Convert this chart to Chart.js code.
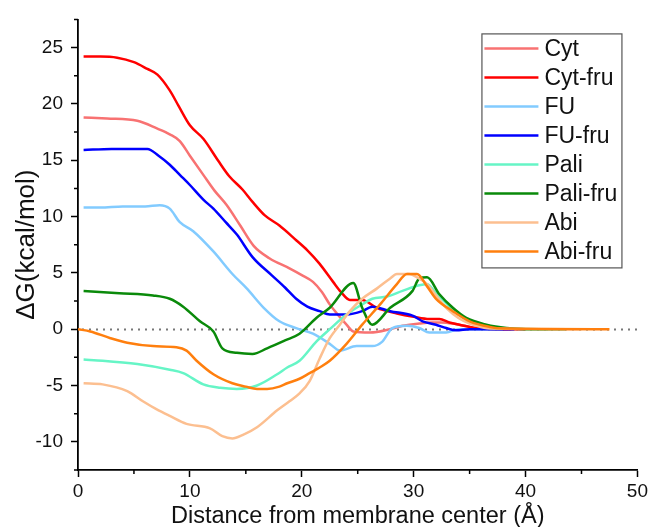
<!DOCTYPE html>
<html>
<head>
<meta charset="utf-8">
<script src="https://cdn.jsdelivr.net/npm/chart.js@4.4.1/dist/chart.umd.min.js"></script>
<style>
  html, body { margin: 0; padding: 0; background: #fff; }
  #wrap { width: 651px; height: 527px; }
</style>
</head>
<body>
<div id="wrap"><canvas id="myChart" width="651" height="527"></canvas></div>
<script>
// series names and colours
const seriesNames = ['Cyt', 'Cyt-fru', 'FU', 'FU-fru', 'Pali', 'Pali-fru', 'Abi', 'Abi-fru'];
const seriesColors = ['#f87272', '#ff0000', '#82cbff', '#0000ff', '#66f5c6', '#0a8a0a', '#fcbf90', '#ff7f0e'];

// distance from membrane center (Å) / ΔG (kcal/mol)
const cytX = [0.5, 2.6, 5.3, 7.1, 8.2, 9.1, 10, 11.2, 12.2, 13.3, 14.5, 15.7, 17.1, 18.9, 20, 21, 21.8, 22.5, 23.3, 24, 24.6, 26.1, 27.9, 29, 30.5, 31.5, 32.5, 33.5, 34.5, 35.5, 37, 40];
const cytY = [18.8, 18.7, 18.5, 17.8, 17.3, 16.7, 15.4, 13.7, 12.3, 11.0, 9.2, 7.4, 6.3, 5.4, 4.8, 4.2, 3.3, 2.2, 1.2, 0.4, -0.2, -0.3, 0.0, 0.3, 0.5, 0.6, 0.6, 0.5, 0.3, 0.1, 0, 0];

const cytFruX = [0.5, 2, 3.5, 5, 6.2, 7.1, 8.2, 9, 10, 11.2, 12.5, 13.5, 14.7, 15.6, 16.7, 18, 19.5, 20.5, 21.6, 22.8, 23.5, 24.3, 25.4, 26.7, 28.5, 30, 31.4, 32.3, 33.2, 34.1, 35.6, 36.5, 38, 40];
const cytFruY = [24.2, 24.2, 24.1, 23.7, 23.1, 22.6, 21.2, 19.8, 18.1, 16.9, 15.0, 13.6, 12.4, 11.3, 10.1, 9.2, 7.9, 7.0, 5.8, 4.2, 3.3, 2.6, 2.6, 1.9, 1.4, 1.1, 0.9, 0.9, 0.6, 0.4, 0.1, 0.05, 0, 0];

const fuX = [0.5, 2, 4, 6, 7.3, 8.2, 9.1, 10.3, 12.1, 13.8, 15.1, 16.6, 18, 19.5, 21, 22.5, 23.4, 24.9, 26.3, 27.2, 28.1, 29.4, 30.5, 31.4, 32.9, 34, 38];
const fuY = [10.8, 10.8, 10.9, 10.9, 11.0, 10.7, 9.5, 8.7, 6.9, 4.9, 3.6, 1.9, 0.7, 0.1, -0.4, -1.3, -1.9, -1.5, -1.5, -1.1, 0.1, 0.3, 0.1, -0.3, -0.3, 0, 0];

const fuFruX = [0.5, 3, 6.2, 7.2, 8.2, 9.1, 10, 11.2, 12.1, 13.2, 14.2, 15.6, 17.3, 18.5, 19.5, 20.5, 21.6, 22.5, 24, 25.4, 26.3, 27.9, 29.9, 30.8, 32, 32.9, 33.8, 35, 39];
const fuFruY = [15.9, 16.0, 16.0, 15.4, 14.6, 13.7, 12.8, 11.5, 10.7, 9.5, 8.4, 6.4, 4.8, 3.7, 2.7, 2.0, 1.6, 1.3, 1.3, 1.6, 2.0, 1.6, 1.2, 0.7, 0.4, 0.1, -0.1, 0, 0];

const paliX = [0.5, 2.2, 5.3, 8.2, 9.4, 11.2, 12.7, 14.2, 16, 17.8, 18.7, 19.8, 21.3, 22.5, 24, 25.4, 26.3, 27.6, 29, 30.5, 31.2, 32, 33, 34, 35, 36, 37.5, 42];
const paliY = [-2.7, -2.8, -3.1, -3.6, -3.9, -4.9, -5.2, -5.3, -5.0, -4.0, -3.4, -2.8, -1.1, 0.0, 1.3, 2.2, 2.7, 2.9, 3.4, 3.9, 4.0, 3.2, 2.2, 1.3, 0.7, 0.3, 0.05, 0];

const paliFruX = [0.5, 3.7, 6.7, 8.2, 9.4, 10.9, 12.1, 12.9, 14.2, 15.6, 16.9, 18.5, 19.8, 21.3, 22.5, 24.6, 25.4, 26.3, 27.9, 29.9, 30.5, 31.2, 32.3, 33.5, 34.7, 36.5, 38.3, 40, 43.6];
const paliFruY = [3.4, 3.2, 3.0, 2.7, 2.0, 0.7, -0.2, -1.7, -2.1, -2.2, -1.7, -1.0, -0.4, 1.0, 1.9, 4.1, 1.9, 0.4, 1.9, 3.4, 4.5, 4.6, 3.1, 1.9, 1.0, 0.4, 0.1, 0, 0];

const abiX = [0.5, 2.2, 4.4, 5.8, 7, 8.2, 9.7, 11.8, 12.9, 13.8, 14.7, 16, 17.8, 18.9, 19.8, 20.7, 21.6, 22.5, 23.4, 24.3, 25.4, 26.7, 27.9, 28.5, 29.6, 30.3, 31.2, 32, 33, 34, 35, 36, 37, 45];
const abiY = [-4.8, -4.9, -5.5, -6.4, -7.1, -7.7, -8.4, -8.8, -9.5, -9.7, -9.4, -8.7, -7.2, -6.4, -5.7, -4.6, -2.6, -0.8, 0.4, 1.6, 2.7, 3.6, 4.5, 4.9, 4.9, 4.6, 4.0, 3.0, 1.8, 1.0, 0.5, 0.2, 0.05, 0];

const abiFruX = [0, 1.1, 2.9, 4.4, 6.7, 8.8, 9.7, 10.6, 12.1, 13.8, 15, 16, 16.9, 18, 18.7, 19.8, 20.7, 21.6, 22.5, 24, 25.4, 27, 28.5, 29.4, 30.3, 31.2, 32, 33.5, 35, 36.8, 38, 47.5];
const abiFruY = [0, -0.2, -0.8, -1.2, -1.5, -1.6, -1.9, -2.8, -4.0, -4.8, -5.1, -5.3, -5.3, -5.1, -4.8, -4.4, -3.9, -3.4, -2.8, -1.3, 0.4, 2.2, 4.0, 4.9, 4.9, 3.8, 2.7, 1.6, 0.7, 0.2, 0.05, 0];

const seriesX = [cytX, cytFruX, fuX, fuFruX, paliX, paliFruX, abiX, abiFruX];
const seriesY = [cytY, cytFruY, fuY, fuFruY, paliY, paliFruY, abiY, abiFruY];

// axis ranges and ticks
const xMin = 0, xMax = 50, xMajor = 10, xMinor = 5;
const yMin = -12.5, yMax = 27.5, yMajor = 5, yMinor = 2.5;

const FONT = "'Liberation Sans', Arial, sans-serif";

const datasets = seriesNames.map((name, i) => ({
    label: name,
    data: seriesX[i].map((x, j) => ({ x: x, y: seriesY[i][j] })),
    borderColor: seriesColors[i],
    backgroundColor: seriesColors[i],
    borderWidth: 2.5,
    pointRadius: 0,
    cubicInterpolationMode: 'monotone',
    order: seriesNames.length - i
}));

// dotted zero line + minor ticks + boxed legend
const figurePlugin = {
    id: 'figure',
    beforeDatasetsDraw(chart) {
        const { ctx, chartArea: { left, right }, scales: { y } } = chart;
        const y0 = Math.round(y.getPixelForValue(0)) + 0.5;
        ctx.save();
        ctx.strokeStyle = '#777';
        ctx.lineWidth = 2;
        ctx.setLineDash([2, 5]);
        ctx.beginPath();
        ctx.moveTo(left + 4, y0);
        ctx.lineTo(right, y0);
        ctx.stroke();
        ctx.restore();
    },
    afterDraw(chart) {
        const { ctx, chartArea: { top, bottom, left, right }, scales: { x, y } } = chart;
        ctx.save();
        // minor ticks
        ctx.strokeStyle = '#000';
        ctx.lineWidth = 1.5;
        ctx.beginPath();
        for (let v = yMin; v <= yMax + 1e-6; v += yMajor) {
            const py = y.getPixelForValue(v);
            ctx.moveTo(left, py);
            ctx.lineTo(left - 4, py);
        }
        for (let v = xMinor; v < xMax; v += xMajor) {
            const px = x.getPixelForValue(v);
            ctx.moveTo(px, bottom);
            ctx.lineTo(px, bottom + 4);
        }
        ctx.stroke();

        // legend
        const bx = right - 156, by = top + 14, bw = 140, bh = 234;
        ctx.fillStyle = '#fff';
        ctx.fillRect(bx, by, bw, bh);
        ctx.strokeStyle = '#555';
        ctx.lineWidth = 1.2;
        ctx.strokeRect(bx + 0.5, by + 0.5, bw, bh);
        ctx.font = '23px ' + FONT;
        ctx.textBaseline = 'middle';
        ctx.textAlign = 'left';
        chart.data.datasets.forEach((ds, i) => {
            const ry = by + 15 + i * 29;
            ctx.strokeStyle = ds.borderColor;
            ctx.lineWidth = 2.5;
            ctx.beginPath();
            ctx.moveTo(bx + 3, ry);
            ctx.lineTo(bx + 57, ry);
            ctx.stroke();
            ctx.fillStyle = '#111';
            ctx.fillText(ds.label, bx + 63, ry + 1);
        });
        ctx.restore();
    }
};

const config = {
    type: 'line',
    data: { datasets },
    options: {
        responsive: false,
        animation: false,
        layout: { padding: { top: 17, right: 13, left: 0, bottom: 0 } },
        plugins: {
            legend: { display: false },
            tooltip: { enabled: false }
        },
        scales: {
            x: {
                type: 'linear',
                min: xMin,
                max: xMax,
                afterFit(scale) { scale.height = 57; },
                ticks: { stepSize: xMajor, padding: 3, color: '#111', font: { family: FONT, size: 19 } },
                grid: { drawOnChartArea: false, drawTicks: true, tickLength: 7, color: '#000', tickWidth: 1.5 },
                border: { display: true, color: '#000', width: 1.8 },
                title: {
                    display: true,
                    text: 'Distance from membrane center (Å)',
                    color: '#111',
                    font: { family: FONT, size: 23.5, lineHeight: 0.9 },
                    padding: { top: 0, bottom: 0 }
                }
            },
            y: {
                min: yMin,
                max: yMax,
                afterFit(scale) { scale.width = 78; },
                afterBuildTicks(scale) {
                    scale.ticks = scale.ticks.filter(t => Math.abs(t.value / yMajor - Math.round(t.value / yMajor)) < 1e-6);
                },
                ticks: { stepSize: yMinor, padding: 8, color: '#111', font: { family: FONT, size: 19 } },
                grid: { drawOnChartArea: false, drawTicks: true, tickLength: 7, color: '#000', tickWidth: 1.5 },
                border: { display: true, color: '#000', width: 1.8 },
                title: {
                    display: true,
                    text: 'ΔG(kcal/mol)',
                    color: '#111',
                    font: { family: FONT, size: 26 },
                    padding: { top: 11, bottom: 0 }
                }
            }
        }
    },
    plugins: [figurePlugin]
};

new Chart(document.getElementById('myChart'), config);
</script>
</body>
</html>
